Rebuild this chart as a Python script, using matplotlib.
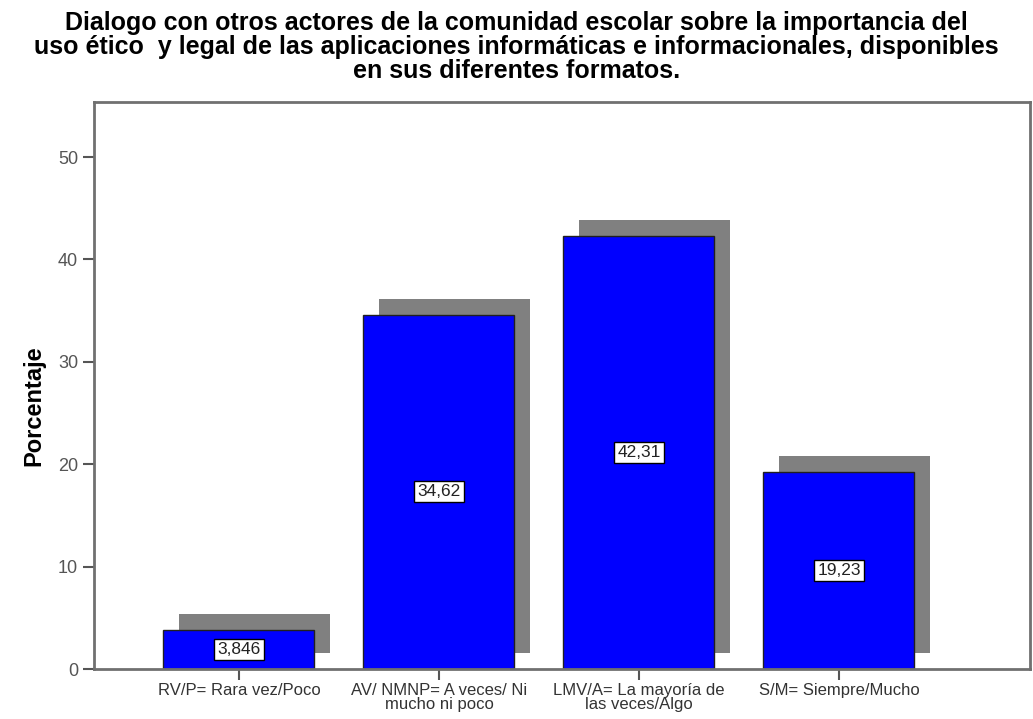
import numpy as np
import matplotlib.pyplot as plt

plt.rcParams['font.family'] = ['Liberation Sans', 'DejaVu Sans']

categorias = ["RV/P= Rara vez/Poco", "AV/ NMNP= A veces/ Ni\nmucho ni poco",
              "LMV/A= La mayoría de\nlas veces/Algo", "S/M= Siempre/Mucho"]
porcentajes = [3.846, 34.62, 42.31, 19.23]
etiquetas = ["3,846", "34,62", "42,31", "19,23"]

titulo = ("Dialogo con otros actores de la comunidad escolar sobre la importancia del\n"
          "uso ético  y legal de las aplicaciones informáticas e informacionales, disponibles\n"
          "en sus diferentes formatos.")

fig = plt.figure(figsize=(10.33, 7.19), dpi=100)
ax = fig.add_axes([0.091, 0.0695, 0.906, 0.789])

x = np.arange(len(categorias))
ancho = 0.755
# sombra gris desplazada
ax.bar(x + 0.08, porcentajes, width=ancho, bottom=1.56, color="#808080", zorder=1)
ax.bar(x, porcentajes, width=ancho, color="#0000FF", edgecolor="#202020", linewidth=1, zorder=2)

for xi, v, t in zip(x, porcentajes, etiquetas):
    ax.text(xi, v / 2, t, ha="center", va="center", fontsize=12.5, color="#222222", zorder=3,
            bbox=dict(boxstyle="square,pad=0.18", facecolor="white", edgecolor="black", linewidth=1))

ax.set_xlim(-0.725, 3.955)
ax.set_ylim(0, 55.4)
ax.set_yticks([0, 10, 20, 30, 40, 50])
ax.set_xticks(x)
ax.set_xticklabels(categorias, fontsize=12, color="#333333", linespacing=0.9)
ax.tick_params(axis="y", labelsize=13, labelcolor="#555555", length=8, width=1.5, color="#555555")
ax.tick_params(axis="x", length=8, width=1.5, color="#555555", pad=2)
for s in ax.spines.values():
    s.set_color("#707070")
    s.set_linewidth(2)

ax.set_ylabel("Porcentaje", fontsize=17, fontweight="bold")
ax.yaxis.set_label_coords(-0.052, 0.465)
fig.suptitle(titulo, fontsize=18, fontweight="bold", y=0.985, linespacing=1.0)

plt.savefig("out.png", dpi=100)
